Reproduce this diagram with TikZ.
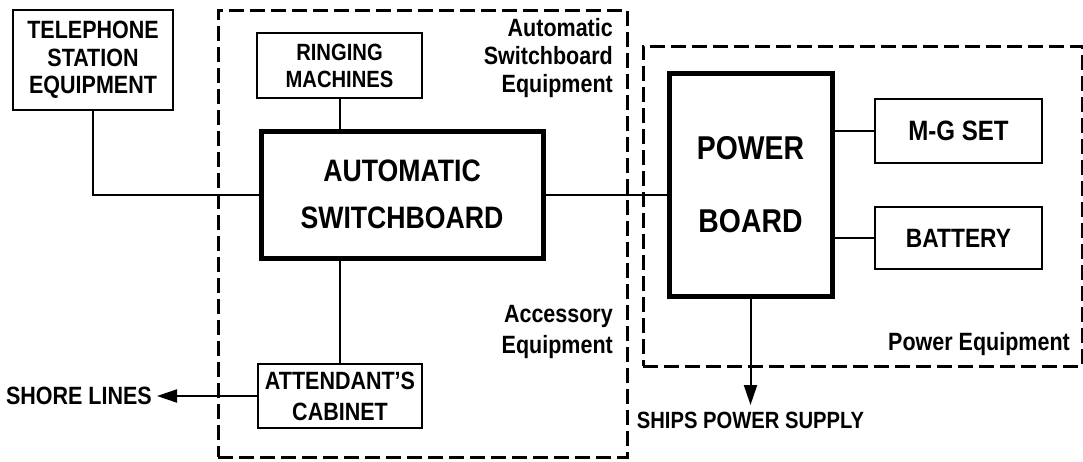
\documentclass[tikz,border=0pt]{standalone}
\usepackage{fontspec}
\setmainfont{Liberation Sans}[FakeStretch=0.86]
\usetikzlibrary{arrows.meta, positioning}

\begin{document}
\begin{tikzpicture}[x=1pt, y=-1pt,
        box/.style={draw, line width=2pt, inner sep=0pt, align=center},
        heavy/.style={box, line width=5pt},
        zone/.style={draw, line width=3pt, dash pattern=on 15pt off 6pt, inner sep=0pt},
        link/.style={line width=2pt},
        feed/.style={link, -{Triangle[length=20pt, width=13pt]}},
        tag/.style={inner sep=0pt, align=right, font=\bfseries\fontsize{25}{28}\selectfont}
    ]
    \useasboundingbox (0,0) rectangle (1083,461);

    % dashed equipment groups
    \node[zone, minimum width=409pt, minimum height=447pt] (swzone) at (422.5,233.5) {};
    \node[zone, minimum width=439pt, minimum height=320pt] (pwzone) at (862.5,206) {};

    \node[box, minimum width=160pt, minimum height=100pt, font=\bfseries\fontsize{25}{27.5}\selectfont] (tel) at (93,60) {TELEPHONE\\STATION\\EQUIPMENT};
    \node[box, minimum width=165pt, minimum height=65pt, font=\bfseries\fontsize{23.5}{27}\selectfont] (ring) at (339.5,65.5) {RINGING\\MACHINES};
    \node[heavy, minimum width=282pt, minimum height=127pt, font=\bfseries\fontsize{31}{47}\selectfont] (sw) at (402,194.5) {AUTOMATIC\\SWITCHBOARD};
    \node[box, minimum width=164pt, minimum height=64pt, font=\bfseries\fontsize{25}{31}\selectfont] (cab) at (340,396) {ATTENDANT'S\\CABINET};

    \node[heavy, minimum width=163pt, minimum height=223pt, font=\bfseries\fontsize{33}{73}\selectfont] (pb) at (750.5,184.5) {POWER\\BOARD};
    \node[box, minimum width=167pt, minimum height=64pt, font=\bfseries\fontsize{28}{28}\selectfont] (mg) at (958.5,131) {M-G SET};
    \node[box, minimum width=167pt, minimum height=62pt, font=\bfseries\fontsize{26.5}{26.5}\selectfont] (bat) at (958.5,238) {BATTERY};

    \node[anchor=east, inner xsep=5pt, font=\bfseries\fontsize{25}{25}\selectfont] (shore) at (157,396) {SHORE LINES};
    \node[anchor=north, inner ysep=7pt, font=\bfseries\fontsize{23.5}{23.5}\selectfont] (ships) at (750.5,405) {SHIPS POWER SUPPLY};

    % group labels
    \node[tag, anchor=north east] (swtag) at (613,18) {Automatic\\Switchboard\\Equipment};
    \node[tag, anchor=north east, font=\bfseries\fontsize{25}{31}\selectfont] (acctag) at (613,305) {Accessory\\Equipment};
    \node[tag, anchor=north east] (pwtag) at (1070,332) {Power Equipment};

    \draw[link] (tel.south) |- (sw.west);
    \draw[link] (ring.south) -- (ring.south |- sw.north);
    \draw[link] (cab.north) -- (cab.north |- sw.south);
    \draw[link] (sw.east) -- (sw.east -| pb.west);
    \draw[link] (mg.west) -- (mg.west -| pb.east);
    \draw[link] (bat.west) -- (bat.west -| pb.east);
    \draw[feed] (cab.west) -- (shore.east);
    \draw[feed] (pb.south) -- (ships.north);
\end{tikzpicture}
\end{document}
